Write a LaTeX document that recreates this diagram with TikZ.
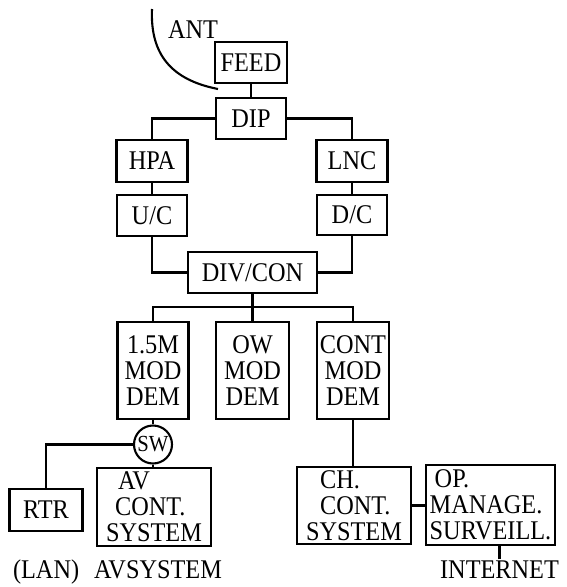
\documentclass[tikz,border=0pt]{standalone}
\usepackage{fontspec}
\setmainfont{Liberation Serif}[FakeStretch=0.9]

\begin{document}
\begin{tikzpicture}[x=1pt,y=-1pt,
  every node/.style={inner sep=0pt,font=\fontsize{27}{26}\selectfont},
  every path/.style={line width=2.1pt},
  blk/.style={draw,rectangle,align=center},
]
\useasboundingbox(0,0) rectangle (567,587);
\node[anchor=base west](ant) at(167,38){ANT};
\draw(152,9) .. controls (150,55) and (172,80) .. (218,89);
\node[blk,minimum width=72,minimum height=41](feed) at(251,62.5){FEED};
\node[blk,minimum width=70,minimum height=41](dip) at(251,118.5){DIP};
\node[blk,minimum width=71,minimum height=42](hpa) at(152,161){HPA};
\node[blk,minimum width=70,minimum height=41](uc) at(152,215.5){U/C};
\node[blk,minimum width=71,minimum height=42](lnc) at(352,161){LNC};
\node[blk,minimum width=70,minimum height=40](dc) at(352,215){D/C};
\node[blk,minimum width=129,minimum height=41](divcon) at(252.5,272.5){DIV/CON};
\node[blk,minimum width=71,minimum height=97](m15) at(153,370.5){1.5M\\MOD\\DEM};
\node[blk,minimum width=73,minimum height=97](mow) at(252.5,370.5){OW\\MOD\\DEM};
\node[blk,minimum width=72,minimum height=97](mcont) at(353,370.5){CONT\\MOD\\DEM};
\node[draw,circle,minimum size=38,font=\fontsize{23}{23}\selectfont](sw) at(153,444.5){SW};
\node[blk,minimum width=73,minimum height=42](rtr) at(46,510){RTR};
\node[blk,minimum width=114,minimum height=78,align=left](av) at(154,507){\hspace*{12pt}AV\\\hspace*{9pt}CONT.\\SYSTEM};
\node[blk,minimum width=114,minimum height=77,align=left](ch) at(354,505.5){\hspace*{14pt}CH.\\\hspace*{14pt}CONT.\\SYSTEM};
\node[blk,minimum width=129,minimum height=80,align=left](op) at(490.5,505){\hspace*{5pt}OP.\\MANAGE.\\SURVEILL.};
\node[anchor=base west](lan) at(12,578){(LAN)};
\node[anchor=base west](avsys) at(93,578){AVSYSTEM};
\node[anchor=base](inet) at(499.5,578){INTERNET};
% connections
\draw(feed)--(dip);
\draw(dip.west)-|(hpa.north); \draw(dip.east)-|(lnc.north);
\draw(hpa)--(uc); \draw(lnc)--(dc);
\draw(uc.south)|-(divcon.west); \draw(dc.south)|-(divcon.east);
\coordinate(bus) at(252.5,307);
\draw(divcon)--(mow);
\draw(m15.north)|-(bus)-|(mcont.north);
\draw(m15)--(sw); \draw(sw.south)--(sw.south|-av.north);
\draw(sw.west)-|(rtr.north);
\draw(mcont.south)--(mcont.south|-ch.north);
\draw(ch.east)--(ch.east-|op.west);
\draw(inet.north)--(inet.north|-op.south);
\end{tikzpicture}
\end{document}
